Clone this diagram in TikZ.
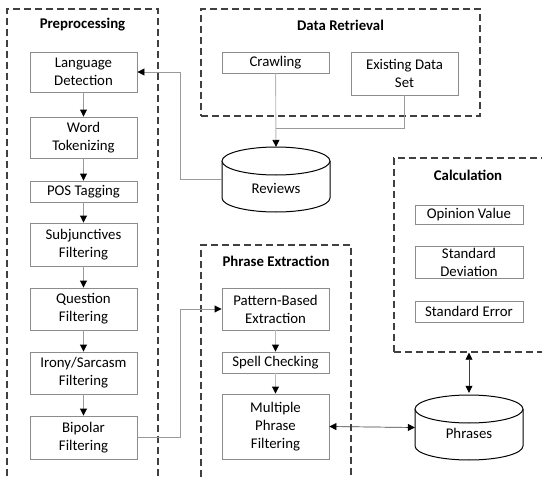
\documentclass[tikz,border=0pt]{standalone}
\usepackage{fontspec}
\setmainfont{Carlito}
\usetikzlibrary{arrows.meta}
\definecolor{boxgray}{HTML}{8C8C8C}
\definecolor{linegray}{HTML}{9A9A9A}
\definecolor{dashgray}{HTML}{404040}
\tikzset{
  txt/.style={font=\fontsize{14.8}{18}\selectfont},
  box/.style={txt, draw=boxgray, line width=0.9pt, align=center, inner sep=0pt,
    minimum width=107pt, fill=white},
  group/.style={draw=dashgray, line width=1.4pt, dash pattern=on 7pt off 4pt, inner sep=0pt},
  title/.style={font=\fontsize{14.8}{18}\selectfont\bfseries},
  conn/.style={draw=linegray, line width=0.9pt},
  flow/.style={conn, -{Triangle[width=7pt,length=7pt,black]}},
  both/.style={draw=black!75, line width=0.7pt,
    {Triangle[width=7pt,length=7pt,black]}-{Triangle[width=7pt,length=7pt,black]}},
  store/.style={minimum width=108pt, minimum height=65pt, inner sep=0pt},
  cyl/.style={draw=black, line width=1pt, fill=white}
}
\begin{document}
\begin{tikzpicture}[x=1pt,y=-1pt]
\useasboundingbox[fill=white] (0,0) rectangle (542,479);
\clip (0,0) rectangle (542,479);

% dashed group frames
\node[group, minimum width=151pt, minimum height=481pt] (prep) at (82.5,249.5) {};
\node[group, minimum width=279pt, minimum height=107pt] (retr) at (340.5,62.5) {};
\node[group, minimum width=150pt, minimum height=245pt] (phex) at (276,367.5) {};
\node[group, minimum width=156pt, minimum height=194pt] (calc) at (472,255) {};

\node[title] (tprep) at (82.5,25) {Preprocessing};
\node[title] (tretr) at (340.5,25) {Data Retrieval};
\node[title] (tphex) at (276,261) {Phrase Extraction};
\node[title] (tcalc) at (468,175) {Calculation};

% preprocessing steps
\node[box, minimum height=40pt] (ld)  at (83.5,72)   {Language\\Detection};
\node[box, minimum height=41pt] (wt)  at (83.5,137.5) {Word\\Tokenizing};
\node[box, minimum height=21pt] (pos) at (83.5,191.5) {POS Tagging};
\node[box, minimum height=43pt] (sf)  at (83.5,244.5) {Subjunctives\\Filtering};
\node[box, minimum height=42pt] (qf)  at (83.5,309)   {Question\\Filtering};
\node[box, minimum height=42pt] (is)  at (83.5,373)   {Irony/Sarcasm\\Filtering};
\node[box, minimum height=43pt] (bf)  at (83.5,437.5) {Bipolar\\Filtering};

% data retrieval
\node[box, minimum height=21pt] (cr)  at (275.5,62.5) {Crawling};
\node[box, minimum height=43pt] (eds) at (404.5,73.5) {Existing Data\\Set};

% phrase extraction
\node[box, minimum height=42pt] (pb)  at (275.5,309)   {Pattern-Based\\Extraction};
\node[box, minimum height=21pt] (sc)  at (275.5,362.5) {Spell Checking};
\node[box, minimum height=65pt] (mpf) at (275.5,426.5) {Multiple\\Phrase\\Filtering};

% calculation
\node[box, minimum width=108pt, minimum height=19pt] (ov) at (469,214.5) {Opinion Value};
\node[box, minimum width=108pt, minimum height=32pt] (sd) at (469,262)   {Standard\\Deviation};
\node[box, minimum width=108pt, minimum height=21pt] (se) at (469,311.5) {Standard Error};

% data stores
\node[store] (rev) at (276,179.5) {};
\draw[cyl] (222,161) -- (222,198) arc[start angle=180,end angle=0,x radius=54,y radius=14] -- (330,161);
\draw[cyl] (276,161) ellipse[x radius=54,y radius=14];
\node[txt] (revt) at (276,188) {Reviews};

\node[store] (phr) at (469,427.5) {};
\draw[cyl] (415,409) -- (415,446) arc[start angle=180,end angle=0,x radius=54,y radius=14] -- (523,409);
\draw[cyl] (469,409) ellipse[x radius=54,y radius=14];
\node[txt] (phrt) at (469,433) {Phrases};

% connectors
\coordinate (bend) at (180,0);
\coordinate (merge) at (276,128);

\draw[flow] (ld) -- (wt);
\draw[flow] (wt) -- (pos);
\draw[flow] (pos) -- (sf);
\draw[flow] (sf) -- (qf);
\draw[flow] (qf) -- (is);
\draw[flow] (is) -- (bf);

\draw[flow, draw=linegray!70] (cr) -- (rev.north);
\draw[conn] (eds.south) |- (merge);

\draw[flow] (rev.west) -- (rev.west -| bend) |- (ld.east);
\draw[flow] (bf.east) -- (bf.east -| bend) |- (pb.west);

\draw[flow, draw=linegray!70] (pb) -- (sc);
\draw[flow, draw=linegray!70] (sc) -- (mpf);

\draw[both] (mpf.east) -- (phr.west);
\draw[both] (phr.north) ++(0,-2) -- (phr.north |- calc.south);
\end{tikzpicture}
\end{document}
